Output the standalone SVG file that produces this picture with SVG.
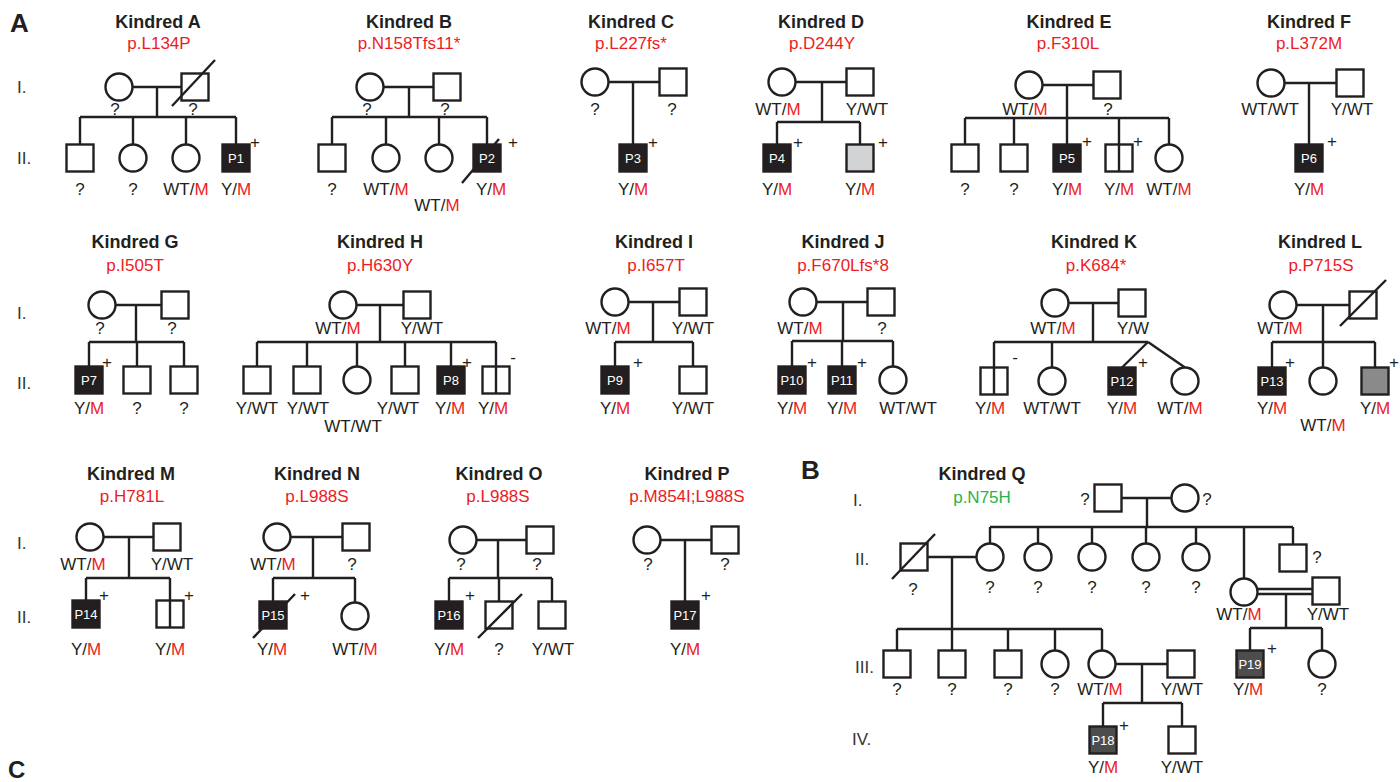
<svg xmlns="http://www.w3.org/2000/svg" xmlns:xlink="http://www.w3.org/1999/xlink" width="1400" height="782" viewBox="0 0 1400 782">
<style>
.ln{stroke:#231f20;stroke-width:2.4;fill:none}
.o{fill:#fff;stroke:#231f20;stroke-width:2.4}
.f{fill:#231f20;stroke:#231f20;stroke-width:2.4}
.g1{fill:#d1d3d4;stroke:#231f20;stroke-width:2.4}
.g2{fill:#8a8a8a;stroke:#231f20;stroke-width:2.4}
.g3{fill:#4d4d4d;stroke:#231f20;stroke-width:2.4}
text{font-family:"Liberation Sans",Arial,sans-serif;fill:#231f20}
.lb{font-size:17px;text-anchor:middle}
.tt{font-size:18px;font-weight:bold;text-anchor:middle}
.mu{font-size:17px;fill:#ed1c24;text-anchor:middle}
.gr{font-size:17px;fill:#2bb24c;text-anchor:middle}
.pl{font-size:13px;fill:#fff;text-anchor:middle}
.pm{font-size:17px;text-anchor:middle}
.rn{font-size:17px;fill:#333}
.pn{font-size:26px;font-weight:bold}
.r{fill:#ed1c24}
</style>
<defs>
<rect id="sq" x="-13.5" y="-13.5" width="27" height="27"/>
<circle id="ci" r="13.5"/>
</defs>
<rect width="1400" height="782" fill="#fff"/>

<g id="panel-labels">
<text class="pn" x="10" y="32">A</text>
<text class="pn" x="801" y="479">B</text>
<text class="pn" x="8" y="778" style="font-size:24px">C</text>
<text class="rn" x="17" y="93">I.</text>
<text class="rn" x="17" y="164">II.</text>
<text class="rn" x="17" y="319">I.</text>
<text class="rn" x="17" y="389">II.</text>
<text class="rn" x="17" y="549">I.</text>
<text class="rn" x="17" y="623">II.</text>
<text class="rn" x="853" y="506">I.</text>
<text class="rn" x="855" y="565">II.</text>
<text class="rn" x="855" y="673">III.</text>
<text class="rn" x="852" y="745">IV.</text>
</g>

<!-- Kindred A -->
<g id="kA">
<text class="tt" x="158" y="28">Kindred A</text>
<text class="mu" x="159" y="49">p.L134P</text>
<g id="kA-links" class="ln"><path d="M132.5 87H181.5M157 87V117M80 117H236M80 117V144.5M133 117V144.5M186 117V144.5M236 117V144.5"/></g>
<g id="A-I1"><use href="#ci" x="119" y="87" class="o"/><text class="lb" x="115" y="115">?</text></g>
<g id="A-I2"><use href="#sq" x="195" y="87" class="o"/><line class="ln" x1="172" y1="106" x2="215" y2="60"/><text class="lb" x="193" y="115">?</text></g>
<g id="A-II1"><use href="#sq" x="80" y="158" class="o"/><text class="lb" x="80" y="195">?</text></g>
<g id="A-II2"><use href="#ci" x="133" y="158" class="o"/><text class="lb" x="133" y="195">?</text></g>
<g id="A-II3"><use href="#ci" x="186" y="158" class="o"/><text class="lb" x="186" y="195">WT/<tspan class="r">M</tspan></text></g>
<g id="A-P1"><use href="#sq" x="236" y="158" class="f"/><text class="pl" x="236" y="162.5">P1</text><text class="pm" x="255" y="148">+</text><text class="lb" x="236" y="195">Y/<tspan class="r">M</tspan></text></g>
</g>

<!-- Kindred B -->
<g id="kB">
<text class="tt" x="409" y="28">Kindred B</text>
<text class="mu" x="409" y="49">p.N158Tfs11*</text>
<g id="kB-links" class="ln"><path d="M383.5 87H433.5M409 87V117M332 117H487M332 117V144.5M386 117V144.5M439 117V144.5M487 117V144.5"/></g>
<g id="B-I1"><use href="#ci" x="370" y="87" class="o"/><text class="lb" x="367" y="115">?</text></g>
<g id="B-I2"><use href="#sq" x="447" y="87" class="o"/><text class="lb" x="445" y="115">?</text></g>
<g id="B-II1"><use href="#sq" x="332" y="158" class="o"/><text class="lb" x="332" y="195">?</text></g>
<g id="B-II2"><use href="#ci" x="386" y="158" class="o"/><text class="lb" x="386" y="195">WT/<tspan class="r">M</tspan></text></g>
<g id="B-II3"><use href="#ci" x="439" y="158" class="o"/><text class="lb" x="437" y="211">WT/<tspan class="r">M</tspan></text></g>
<g id="B-P2"><use href="#sq" x="487" y="158" class="f"/><line class="ln" x1="462" y1="183" x2="499" y2="139"/><text class="pl" x="487" y="162.5">P2</text><text class="pm" x="513" y="148">+</text><text class="lb" x="491" y="195">Y/<tspan class="r">M</tspan></text></g>
</g>

<!-- Kindred C -->
<g id="kC">
<text class="tt" x="631" y="28">Kindred C</text>
<text class="mu" x="631" y="49">p.L227fs*</text>
<g id="kC-links" class="ln"><path d="M608.5 82H659.5M633 82V144.5"/></g>
<g id="C-I1"><use href="#ci" x="595" y="82" class="o"/><text class="lb" x="595" y="115">?</text></g>
<g id="C-I2"><use href="#sq" x="673" y="82" class="o"/><text class="lb" x="672" y="115">?</text></g>
<g id="C-P3"><use href="#sq" x="633" y="158" class="f"/><text class="pl" x="633" y="162.5">P3</text><text class="pm" x="653" y="148">+</text><text class="lb" x="633" y="195">Y/<tspan class="r">M</tspan></text></g>
</g>

<!-- Kindred D -->
<g id="kD">
<text class="tt" x="821" y="28">Kindred D</text>
<text class="mu" x="822" y="49">p.D244Y</text>
<g id="kD-links" class="ln"><path d="M795.5 82H846.5M822 82V122M777 122H860M777 122V144.5M860 122V144.5"/></g>
<g id="D-I1"><use href="#ci" x="782" y="82" class="o"/><text class="lb" x="778" y="115">WT/<tspan class="r">M</tspan></text></g>
<g id="D-I2"><use href="#sq" x="860" y="82" class="o"/><text class="lb" x="867" y="115">Y/WT</text></g>
<g id="D-P4"><use href="#sq" x="777" y="158" class="f"/><text class="pl" x="777" y="162.5">P4</text><text class="pm" x="798" y="148">+</text><text class="lb" x="777" y="195">Y/<tspan class="r">M</tspan></text></g>
<g id="D-II2"><use href="#sq" x="860" y="158" class="g1"/><text class="pm" x="883" y="148">+</text><text class="lb" x="860" y="195">Y/<tspan class="r">M</tspan></text></g>
</g>

<!-- Kindred E -->
<g id="kE">
<text class="tt" x="1069" y="28">Kindred E</text>
<text class="mu" x="1068" y="49">p.F310L</text>
<g id="kE-links" class="ln"><path d="M1042.5 85H1093.5M1067 85V118M965 118H1169M965 118V144.5M1014 118V144.5M1067 118V144.5M1119 118V144.5M1169 118V144.5"/></g>
<g id="E-I1"><use href="#ci" x="1029" y="85" class="o"/><text class="lb" x="1025" y="115">WT/<tspan class="r">M</tspan></text></g>
<g id="E-I2"><use href="#sq" x="1107" y="85" class="o"/><text class="lb" x="1108" y="115">?</text></g>
<g id="E-II1"><use href="#sq" x="965" y="158" class="o"/><text class="lb" x="965" y="195">?</text></g>
<g id="E-II2"><use href="#sq" x="1014" y="158" class="o"/><text class="lb" x="1014" y="195">?</text></g>
<g id="E-P5"><use href="#sq" x="1067" y="158" class="f"/><text class="pl" x="1067" y="162.5">P5</text><text class="pm" x="1087" y="147">+</text><text class="lb" x="1067" y="195">Y/<tspan class="r">M</tspan></text></g>
<g id="E-II4"><use href="#sq" x="1119" y="158" class="o"/><line class="ln" x1="1119" y1="144.5" x2="1119" y2="171.5"/><text class="pm" x="1138" y="147">+</text><text class="lb" x="1119" y="195">Y/<tspan class="r">M</tspan></text></g>
<g id="E-II5"><use href="#ci" x="1169" y="158" class="o"/><text class="lb" x="1169" y="195">WT/<tspan class="r">M</tspan></text></g>
</g>

<!-- Kindred F -->
<g id="kF">
<text class="tt" x="1309" y="28">Kindred F</text>
<text class="mu" x="1309" y="49">p.L372M</text>
<g id="kF-links" class="ln"><path d="M1284.5 83H1336.5M1309 83V144.5"/></g>
<g id="F-I1"><use href="#ci" x="1271" y="83" class="o"/><text class="lb" x="1270" y="115">WT/WT</text></g>
<g id="F-I2"><use href="#sq" x="1350" y="83" class="o"/><text class="lb" x="1352" y="115">Y/WT</text></g>
<g id="F-P6"><use href="#sq" x="1309" y="158" class="f"/><text class="pl" x="1309" y="162.5">P6</text><text class="pm" x="1332" y="147">+</text><text class="lb" x="1309" y="195">Y/<tspan class="r">M</tspan></text></g>
</g>

<!-- Kindred G -->
<g id="kG">
<text class="tt" x="135" y="248">Kindred G</text>
<text class="mu" x="135" y="271">p.I505T</text>
<g id="kG-links" class="ln"><path d="M115.5 305H161.5M136 305V342M89 342H184M89 342V366.5M137 342V366.5M184 342V366.5"/></g>
<g id="G-I1"><use href="#ci" x="102" y="305" class="o"/><text class="lb" x="100" y="334">?</text></g>
<g id="G-I2"><use href="#sq" x="175" y="305" class="o"/><text class="lb" x="172" y="334">?</text></g>
<g id="G-P7"><use href="#sq" x="89" y="380" class="f"/><text class="pl" x="89" y="384.5">P7</text><text class="pm" x="107" y="368">+</text><text class="lb" x="89" y="414">Y/<tspan class="r">M</tspan></text></g>
<g id="G-II2"><use href="#sq" x="137" y="380" class="o"/><text class="lb" x="137" y="414">?</text></g>
<g id="G-II3"><use href="#sq" x="184" y="380" class="o"/><text class="lb" x="184" y="414">?</text></g>
</g>

<!-- Kindred H -->
<g id="kH">
<text class="tt" x="380" y="248">Kindred H</text>
<text class="mu" x="380" y="271">p.H630Y</text>
<g id="kH-links" class="ln"><path d="M356.5 305H403.5M380 305V342M257 342H496M257 342V366.5M307 342V366.5M357 342V366.5M405 342V366.5M451 342V366.5M496 342V366.5"/></g>
<g id="H-I1"><use href="#ci" x="343" y="305" class="o"/><text class="lb" x="338" y="334">WT/<tspan class="r">M</tspan></text></g>
<g id="H-I2"><use href="#sq" x="417" y="305" class="o"/><text class="lb" x="422" y="334">Y/WT</text></g>
<g id="H-II1"><use href="#sq" x="257" y="380" class="o"/><text class="lb" x="257" y="414">Y/WT</text></g>
<g id="H-II2"><use href="#sq" x="307" y="380" class="o"/><text class="lb" x="308" y="414">Y/WT</text></g>
<g id="H-II3"><use href="#ci" x="357" y="380" class="o"/><text class="lb" x="353" y="432">WT/WT</text></g>
<g id="H-II4"><use href="#sq" x="405" y="380" class="o"/><text class="lb" x="398" y="414">Y/WT</text></g>
<g id="H-P8"><use href="#sq" x="451" y="380" class="f"/><text class="pl" x="451" y="384.5">P8</text><text class="pm" x="467" y="368">+</text><text class="lb" x="450" y="414">Y/<tspan class="r">M</tspan></text></g>
<g id="H-II6"><use href="#sq" x="496" y="380" class="o"/><line class="ln" x1="496" y1="366.5" x2="496" y2="393.5"/><text class="pm" x="513" y="363">-</text><text class="lb" x="493" y="414">Y/<tspan class="r">M</tspan></text></g>
</g>

<!-- Kindred I -->
<g id="kI">
<text class="tt" x="654" y="248">Kindred I</text>
<text class="mu" x="656" y="271">p.I657T</text>
<g id="kI-links" class="ln"><path d="M628.5 302H679.5M653 302V342M615 342H693M615 342V366.5M693 342V366.5"/></g>
<g id="I-I1"><use href="#ci" x="615" y="302" class="o"/><text class="lb" x="608" y="334">WT/<tspan class="r">M</tspan></text></g>
<g id="I-I2"><use href="#sq" x="693" y="302" class="o"/><text class="lb" x="693" y="334">Y/WT</text></g>
<g id="I-P9"><use href="#sq" x="615" y="380" class="f"/><text class="pl" x="615" y="384.5">P9</text><text class="pm" x="638" y="368">+</text><text class="lb" x="615" y="414">Y/<tspan class="r">M</tspan></text></g>
<g id="I-II2"><use href="#sq" x="693" y="380" class="o"/><text class="lb" x="693" y="414">Y/WT</text></g>
</g>

<!-- Kindred J -->
<g id="kJ">
<text class="tt" x="843" y="248">Kindred J</text>
<text class="mu" x="843" y="271">p.F670Lfs*8</text>
<g id="kJ-links" class="ln"><path d="M816.5 302H867.5M843 302V341M792 341H893M792 341V366.5M842 341V366.5M893 341V366.5"/></g>
<g id="J-I1"><use href="#ci" x="803" y="302" class="o"/><text class="lb" x="800" y="334">WT/<tspan class="r">M</tspan></text></g>
<g id="J-I2"><use href="#sq" x="881" y="302" class="o"/><text class="lb" x="882" y="334">?</text></g>
<g id="J-P10"><use href="#sq" x="792" y="380" class="f"/><text class="pl" x="792" y="384.5">P10</text><text class="pm" x="812" y="368">+</text><text class="lb" x="792" y="414">Y/<tspan class="r">M</tspan></text></g>
<g id="J-P11"><use href="#sq" x="842" y="380" class="f"/><text class="pl" x="842" y="384.5">P11</text><text class="pm" x="862" y="368">+</text><text class="lb" x="842" y="414">Y/<tspan class="r">M</tspan></text></g>
<g id="J-II3"><use href="#ci" x="893" y="380" class="o"/><text class="lb" x="908" y="414">WT/WT</text></g>
</g>

<!-- Kindred K -->
<g id="kK">
<text class="tt" x="1094" y="248">Kindred K</text>
<text class="mu" x="1096" y="271">p.K684*</text>
<g id="kK-links" class="ln"><path d="M1068.5 303H1118.5M1093 303V342M994 342H1148M994 342V367.5M1052 342V367.5M1148 342L1122 367.5M1148 342L1185 367.5"/></g>
<g id="K-I1"><use href="#ci" x="1055" y="303" class="o"/><text class="lb" x="1053" y="334">WT/<tspan class="r">M</tspan></text></g>
<g id="K-I2"><use href="#sq" x="1132" y="303" class="o"/><text class="lb" x="1133" y="334">Y/W</text></g>
<g id="K-II1"><use href="#sq" x="994" y="381" class="o"/><line class="ln" x1="994" y1="367.5" x2="994" y2="394.5"/><text class="pm" x="1015" y="363">-</text><text class="lb" x="990" y="414">Y/<tspan class="r">M</tspan></text></g>
<g id="K-II2"><use href="#ci" x="1052" y="381" class="o"/><text class="lb" x="1052" y="414">WT/WT</text></g>
<g id="K-P12"><use href="#sq" x="1122" y="381" class="f"/><text class="pl" x="1122" y="385.5">P12</text><text class="pm" x="1143" y="368">+</text><text class="lb" x="1122" y="414">Y/<tspan class="r">M</tspan></text></g>
<g id="K-II4"><use href="#ci" x="1185" y="381" class="o"/><text class="lb" x="1180" y="414">WT/<tspan class="r">M</tspan></text></g>
</g>

<!-- Kindred L -->
<g id="kL">
<text class="tt" x="1320" y="248">Kindred L</text>
<text class="mu" x="1321" y="271">p.P715S</text>
<g id="kL-links" class="ln"><path d="M1296.5 305H1349.5M1323 305V342M1272 342H1375M1272 342V367.5M1323 342V367.5M1375 342V367.5"/></g>
<g id="L-I1"><use href="#ci" x="1283" y="305" class="o"/><text class="lb" x="1280" y="334">WT/<tspan class="r">M</tspan></text></g>
<g id="L-I2"><use href="#sq" x="1363" y="305" class="o"/><line class="ln" x1="1340" y1="326" x2="1386" y2="280"/></g>
<g id="L-P13"><use href="#sq" x="1272" y="381" class="f"/><text class="pl" x="1272" y="385.5">P13</text><text class="pm" x="1290" y="368">+</text><text class="lb" x="1272" y="414">Y/<tspan class="r">M</tspan></text></g>
<g id="L-II2"><use href="#ci" x="1323" y="381" class="o"/><text class="lb" x="1323" y="431">WT/<tspan class="r">M</tspan></text></g>
<g id="L-II3"><use href="#sq" x="1375" y="381" class="g2"/><text class="pm" x="1394" y="368">+</text><text class="lb" x="1375" y="414">Y/<tspan class="r">M</tspan></text></g>
</g>

<!-- Kindred M -->
<g id="kM">
<text class="tt" x="131" y="480">Kindred M</text>
<text class="mu" x="132" y="502">p.H781L</text>
<g id="kM-links" class="ln"><path d="M103.5 537H153.5M129 537V578M86 578H170M86 578V600.5M170 578V600.5"/></g>
<g id="M-I1"><use href="#ci" x="90" y="537" class="o"/><text class="lb" x="83" y="570">WT/<tspan class="r">M</tspan></text></g>
<g id="M-I2"><use href="#sq" x="167" y="537" class="o"/><text class="lb" x="172" y="570">Y/WT</text></g>
<g id="M-P14"><use href="#sq" x="86" y="614" class="f"/><text class="pl" x="86" y="618.5">P14</text><text class="pm" x="104" y="601">+</text><text class="lb" x="86" y="655">Y/<tspan class="r">M</tspan></text></g>
<g id="M-II2"><use href="#sq" x="170" y="614" class="o"/><line class="ln" x1="170" y1="600.5" x2="170" y2="627.5"/><text class="pm" x="189" y="601">+</text><text class="lb" x="170" y="655">Y/<tspan class="r">M</tspan></text></g>
</g>

<!-- Kindred N -->
<g id="kN">
<text class="tt" x="317" y="480">Kindred N</text>
<text class="mu" x="317" y="502">p.L988S</text>
<g id="kN-links" class="ln"><path d="M290.5 537H342.5M313 537V578M273 578H355M273 578V601.5M355 578V602.5"/></g>
<g id="N-I1"><use href="#ci" x="277" y="537" class="o"/><text class="lb" x="273" y="570">WT/<tspan class="r">M</tspan></text></g>
<g id="N-I2"><use href="#sq" x="356" y="537" class="o"/><text class="lb" x="352" y="570">?</text></g>
<g id="N-P15"><use href="#sq" x="273" y="615" class="f"/><line class="ln" x1="253" y1="638" x2="295" y2="594"/><text class="pl" x="273" y="619.5">P15</text><text class="pm" x="305" y="601">+</text><text class="lb" x="272" y="655">Y/<tspan class="r">M</tspan></text></g>
<g id="N-II2"><use href="#ci" x="355" y="616" class="o"/><text class="lb" x="355" y="655">WT/<tspan class="r">M</tspan></text></g>
</g>

<!-- Kindred O -->
<g id="kO">
<text class="tt" x="499" y="480">Kindred O</text>
<text class="mu" x="498" y="502">p.L988S</text>
<g id="kO-links" class="ln"><path d="M476.5 540H526.5M498 540V578M449 578H552M449 578V601.5M499 578V601.5M552 578V601.5"/></g>
<g id="O-I1"><use href="#ci" x="463" y="540" class="o"/><text class="lb" x="461" y="570">?</text></g>
<g id="O-I2"><use href="#sq" x="540" y="540" class="o"/><text class="lb" x="537" y="570">?</text></g>
<g id="O-P16"><use href="#sq" x="449" y="615" class="f"/><text class="pl" x="449" y="619.5">P16</text><text class="pm" x="470" y="601">+</text><text class="lb" x="449" y="655">Y/<tspan class="r">M</tspan></text></g>
<g id="O-II2"><use href="#sq" x="499" y="615" class="o"/><line class="ln" x1="478" y1="638" x2="522" y2="594"/><text class="lb" x="499" y="655">?</text></g>
<g id="O-II3"><use href="#sq" x="552" y="615" class="o"/><text class="lb" x="553" y="655">Y/WT</text></g>
</g>

<!-- Kindred P -->
<g id="kP">
<text class="tt" x="687" y="480">Kindred P</text>
<text class="mu" x="687" y="502">p.M854I;L988S</text>
<g id="kP-links" class="ln"><path d="M660.5 540H711.5M685 540V601.5"/></g>
<g id="P-I1"><use href="#ci" x="647" y="540" class="o"/><text class="lb" x="648" y="570">?</text></g>
<g id="P-I2"><use href="#sq" x="725" y="540" class="o"/><text class="lb" x="725" y="570">?</text></g>
<g id="P-P17"><use href="#sq" x="685" y="615" class="f"/><text class="pl" x="685" y="619.5">P17</text><text class="pm" x="706" y="601">+</text><text class="lb" x="685" y="655">Y/<tspan class="r">M</tspan></text></g>
</g>

<!-- Kindred Q -->
<g id="kQ">
<text class="tt" x="982" y="480">Kindred Q</text>
<text class="gr" x="982" y="503">p.N75H</text>
<g id="kQ-links" class="ln"><path d="M1121.5 498H1171.5M1147 498V527M990 527H1293M990 527V543.5M1038 527V543.5M1092 527V543.5M1146 527V543.5M1196 527V543.5M1244 527V578.5M1293 527V544.5M927.5 557H976.5M952 557V629M897 629H1102M897 629V650.5M952 629V650.5M1008 629V650.5M1055 629V650.5M1102 629V650.5M1115.5 664H1167.5M1142 664V703M1103 703H1182M1103 703V726.5M1182 703V726.5M1258 589H1312.5M1258 594H1312.5M1286 594V628M1250 628H1322M1250 628V650.5M1322 628V650.5"/></g>
<g id="Q-I1"><use href="#sq" x="1108" y="498" class="o"/><text class="lb" x="1085" y="505">?</text></g>
<g id="Q-I2"><use href="#ci" x="1185" y="498" class="o"/><text class="lb" x="1207" y="505">?</text></g>
<g id="Q-II1"><use href="#sq" x="914" y="557" class="o"/><line class="ln" x1="892" y1="579" x2="935" y2="534"/><text class="lb" x="913" y="595">?</text></g>
<g id="Q-II2"><use href="#ci" x="990" y="557" class="o"/><text class="lb" x="990" y="593">?</text></g>
<g id="Q-II3"><use href="#ci" x="1038" y="557" class="o"/><text class="lb" x="1038" y="593">?</text></g>
<g id="Q-II4"><use href="#ci" x="1092" y="557" class="o"/><text class="lb" x="1092" y="593">?</text></g>
<g id="Q-II5"><use href="#ci" x="1146" y="557" class="o"/><text class="lb" x="1146" y="593">?</text></g>
<g id="Q-II6"><use href="#ci" x="1196" y="557" class="o"/><text class="lb" x="1196" y="593">?</text></g>
<g id="Q-II7"><use href="#ci" x="1244" y="592" class="o"/><text class="lb" x="1239" y="620">WT/<tspan class="r">M</tspan></text></g>
<g id="Q-II8"><use href="#sq" x="1293" y="558" class="o"/><text class="lb" x="1317" y="563">?</text></g>
<g id="Q-II9"><use href="#sq" x="1326" y="591" class="o"/><text class="lb" x="1328" y="620">Y/WT</text></g>
<g id="Q-III1"><use href="#sq" x="897" y="664" class="o"/><text class="lb" x="897" y="695">?</text></g>
<g id="Q-III2"><use href="#sq" x="952" y="664" class="o"/><text class="lb" x="952" y="695">?</text></g>
<g id="Q-III3"><use href="#sq" x="1008" y="664" class="o"/><text class="lb" x="1008" y="695">?</text></g>
<g id="Q-III4"><use href="#ci" x="1055" y="664" class="o"/><text class="lb" x="1055" y="695">?</text></g>
<g id="Q-III5"><use href="#ci" x="1102" y="664" class="o"/><text class="lb" x="1100" y="695">WT/<tspan class="r">M</tspan></text></g>
<g id="Q-III6"><use href="#sq" x="1181" y="664" class="o"/><text class="lb" x="1182" y="695">Y/WT</text></g>
<g id="Q-P19"><use href="#sq" x="1250" y="664" class="g3"/><text class="pl" x="1250" y="668.5">P19</text><text class="pm" x="1272" y="654">+</text><text class="lb" x="1248" y="695">Y/<tspan class="r">M</tspan></text></g>
<g id="Q-III8"><use href="#ci" x="1322" y="664" class="o"/><text class="lb" x="1322" y="695">?</text></g>
<g id="Q-P18"><use href="#sq" x="1103" y="740" class="g3"/><text class="pl" x="1103" y="744.5">P18</text><text class="pm" x="1124" y="731">+</text><text class="lb" x="1103" y="773">Y/<tspan class="r">M</tspan></text></g>
<g id="Q-IV2"><use href="#sq" x="1182" y="740" class="o"/><text class="lb" x="1182" y="773">Y/WT</text></g>
</g>
</svg>
